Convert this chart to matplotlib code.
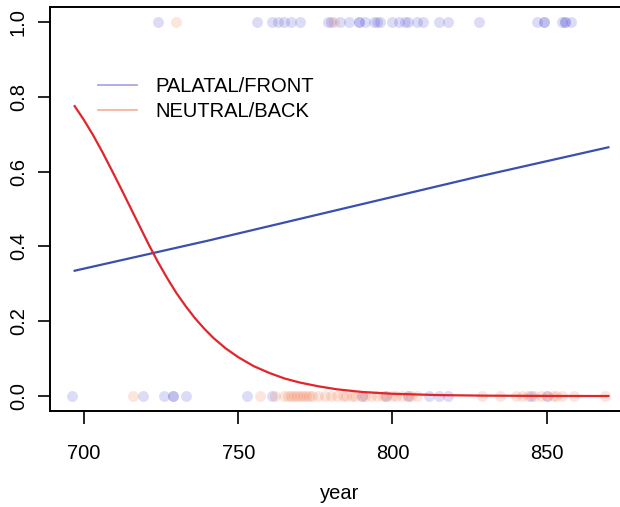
import matplotlib
matplotlib.use("Agg")
import matplotlib.pyplot as plt
import numpy as np

plt.rcParams['font.family'] = ['Liberation Sans', 'DejaVu Sans']

front_top = [724, 756, 761, 763, 765, 767, 770, 779, 780, 783, 786, 789, 789, 791,
             794, 795, 796, 800, 802, 804, 805, 808, 810, 815, 818, 828,
             847, 849, 849, 855, 856, 856, 858]
front_bottom = [696, 719, 726, 729, 729, 733, 753, 761, 790, 798, 805, 812, 815,
                818, 845, 850]
back_top = [730, 781]
back_bottom = [716, 757, 762, 765, 766, 767, 768, 769, 770, 771, 772, 773, 774, 776,
               778, 780, 782, 784, 785, 787, 788, 790, 791, 793, 795, 797, 798, 800,
               801, 803, 805, 806, 808, 829, 835, 840, 842, 844, 846, 848, 850, 852,
               853, 855, 859, 869]

# fitted curves
front_years = [697, 740, 783.5, 827, 870]
front_prob = [0.335, 0.415, 0.50, 0.585, 0.665]
back_years = [697, 700, 703, 706, 709, 712, 715, 718, 721, 724, 727, 730, 733, 736,
              739, 742, 746, 750, 755, 760, 765, 770, 776, 782, 790, 800, 815, 830,
              850, 870]
back_prob = [0.775, 0.738, 0.697, 0.652, 0.604, 0.555, 0.505, 0.455, 0.405, 0.358,
             0.315, 0.275, 0.24, 0.208, 0.18, 0.155, 0.127, 0.104, 0.08, 0.062,
             0.047, 0.036, 0.026, 0.018, 0.011, 0.006, 0.0025, 0.001, 0.0003, 0.0]

blue_pt = (0.2, 0.2, 0.8, 0.17)
red_pt = (0.95, 0.4, 0.2, 0.17)

fig = plt.figure(figsize=(6.2, 5.07), dpi=100)
ax = fig.add_axes([50 / 620, 96 / 507, 580 / 620, 404 / 507])

ax.scatter(front_top, np.ones(len(front_top)), s=62, color=blue_pt, lw=0)
ax.scatter(front_bottom, np.zeros(len(front_bottom)), s=62, color=blue_pt, lw=0)
ax.scatter(back_top, np.ones(len(back_top)), s=62, color=red_pt, lw=0)
ax.scatter(back_bottom, np.zeros(len(back_bottom)), s=62, color=red_pt, lw=0)

ax.plot(front_years, front_prob, color='#3a4fae', lw=1.6)
ax.plot(back_years, back_prob, color='#e0262a', lw=1.6)

ax.set_xlim(689, 877)
ax.set_ylim(-0.04, 1.04)
ax.set_xticks([700, 750, 800, 850])
ax.set_yticks([0, 0.2, 0.4, 0.6, 0.8, 1.0])
ax.set_yticklabels(['0.0', '0.2', '0.4', '0.6', '0.8', '1.0'], rotation=90, va='center')
ax.tick_params(labelsize=14.5, length=9, width=1.2)
ax.tick_params(axis='x', pad=15)
ax.tick_params(axis='y', pad=7)
for s in ax.spines.values():
    s.set_linewidth(1.4)
ax.set_xlabel('year', fontsize=14.5, labelpad=15)

h1, = ax.plot([], [], color='#a8a8e2', lw=1.3)
h2, = ax.plot([], [], color='#f4b49c', lw=1.3)
ax.legend([h1, h2], ['PALATAL/FRONT', 'NEUTRAL/BACK'], loc='upper left',
          bbox_to_anchor=(0.052, 0.872), frameon=False, fontsize=14.5,
          handlelength=1.9, handletextpad=0.95, labelspacing=0.3)

fig.savefig('out.png', dpi=100)
